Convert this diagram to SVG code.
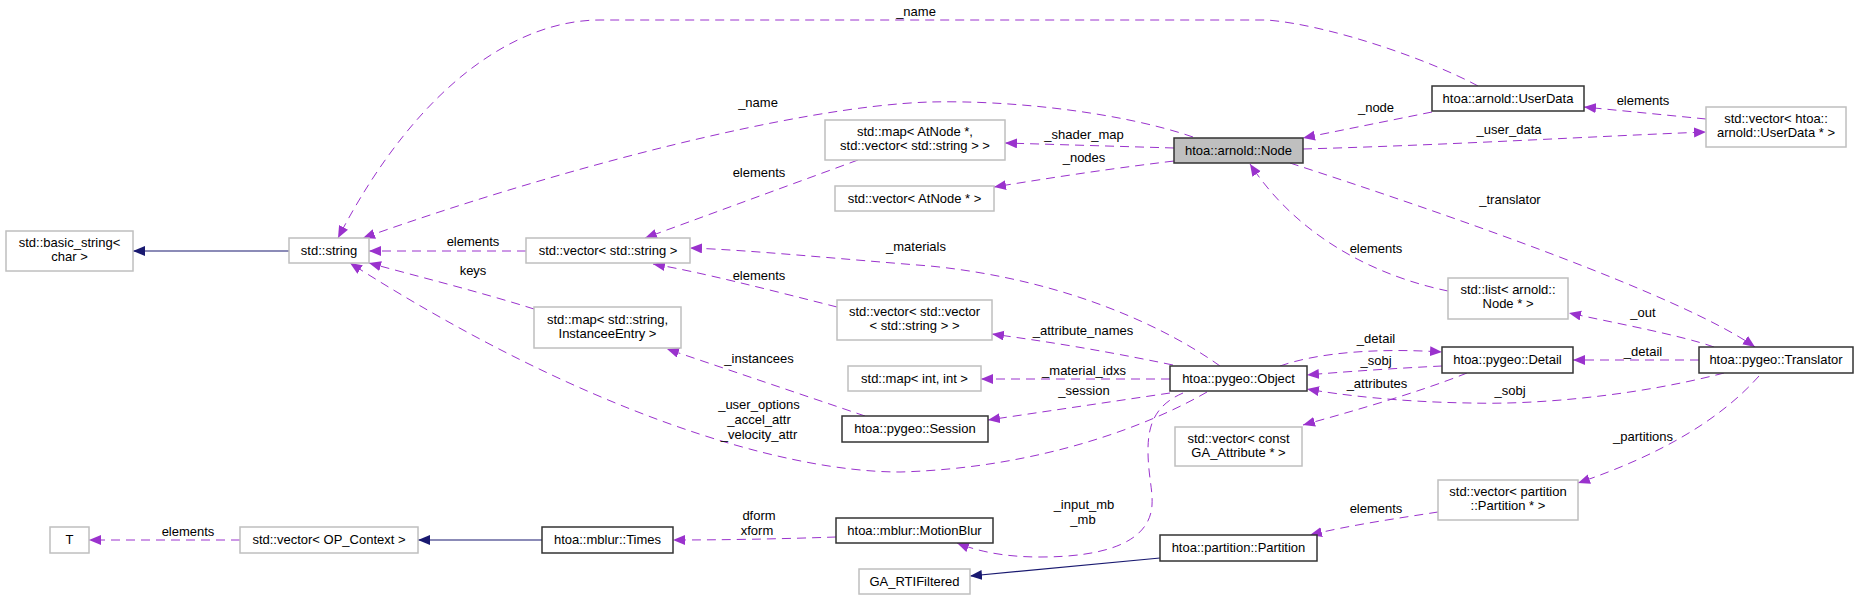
<svg xmlns="http://www.w3.org/2000/svg" width="1859" height="600" viewBox="0 0 1859 600">
<style>
text{font-family:"Liberation Sans",Arial,sans-serif;font-size:13px;fill:#000}
.n text{text-anchor:middle}
.g{fill:#fff;stroke:#bfbfbf;stroke-width:1.5}
.b{fill:#fff;stroke:#333;stroke-width:1.5}
.u{fill:none;stroke:#9a32cd;stroke-width:1;stroke-dasharray:9,6}
.i{fill:none;stroke:#191970;stroke-width:1.2}
.l{text-anchor:middle}
</style>
<defs>
<marker id="pa" markerUnits="userSpaceOnUse" markerWidth="13" markerHeight="11" refX="12" refY="5" orient="auto" viewBox="0 0 13 11"><path d="M0,0 L12,5 L0,10 z" fill="#9a32cd"/></marker>
<marker id="ba" markerUnits="userSpaceOnUse" markerWidth="13" markerHeight="11" refX="12" refY="5" orient="auto" viewBox="0 0 13 11"><path d="M0,0 L12,5 L0,10 z" fill="#191970"/></marker>
</defs>
<rect width="1859" height="600" fill="#fff"/>
<g id="edges">
<path class="u" marker-end="url(#pa)" d="M1193,137 C1120,112 1010,100 930,102 C800,106 560,168 363,238"/>
<text class="l" x="758" y="107">_name</text>
<path class="u" marker-end="url(#pa)" d="M1478,86 C1430,60 1330,25 1267,20 L600,20 C520,20 420,80 338,238"/>
<text class="l" x="916" y="16">_name</text>
<path class="u" marker-end="url(#pa)" d="M858,160 L645,238"/>
<text class="l" x="759" y="177">elements</text>
<path class="u" marker-end="url(#pa)" d="M1174,148 L1005,143"/>
<text class="l" x="1084" y="139">_shader_map</text>
<path class="u" marker-end="url(#pa)" d="M1174,161 C1100,170 1050,178 994,187"/>
<text class="l" x="1084" y="162">_nodes</text>
<path class="u" marker-end="url(#pa)" d="M1432,112 L1303,138"/>
<text class="l" x="1376" y="112">_node</text>
<path class="u" marker-end="url(#pa)" d="M1706,119 L1584,107"/>
<text class="l" x="1643" y="105">elements</text>
<path class="u" marker-end="url(#pa)" d="M1303,149 C1450,145 1600,136 1706,132"/>
<text class="l" x="1509" y="134">_user_data</text>
<path class="u" marker-end="url(#pa)" d="M1290,163 C1450,215 1680,295 1755,347"/>
<text class="l" x="1510" y="204">_translator</text>
<path class="u" marker-end="url(#pa)" d="M1448,291 C1380,277 1300,240 1250,164"/>
<text class="l" x="1376" y="253">elements</text>
<path class="u" marker-end="url(#pa)" d="M1714,347 C1680,335 1610,322 1569,313"/>
<text class="l" x="1643" y="317">_out</text>
<path class="u" marker-end="url(#pa)" d="M1699,360 L1573,360"/>
<text class="l" x="1643" y="356">_detail</text>
<path class="u" marker-end="url(#pa)" d="M1724,373 C1640,395 1540,405 1470,403 C1400,402 1340,395 1307,389"/>
<text class="l" x="1510" y="395">_sobj</text>
<path class="u" marker-end="url(#pa)" d="M1759,376 C1720,420 1660,455 1578,483"/>
<text class="l" x="1643" y="441">_partitions</text>
<path class="u" marker-end="url(#pa)" d="M1280,366 C1320,352 1380,348 1442,352"/>
<text class="l" x="1376" y="343">_detail</text>
<path class="u" marker-end="url(#pa)" d="M1442,366 C1400,368 1340,372 1307,375"/>
<text class="l" x="1376" y="365">_sobj</text>
<path class="u" marker-end="url(#pa)" d="M1467,373 C1420,392 1350,412 1303,425"/>
<text class="l" x="1377" y="388">_attributes</text>
<path class="u" marker-end="url(#pa)" d="M1170,379 L981,379"/>
<text class="l" x="1084" y="375">_material_idxs</text>
<path class="u" marker-end="url(#pa)" d="M1170,393 L988,420"/>
<text class="l" x="1084" y="395">_session</text>
<path class="u" marker-end="url(#pa)" d="M1173,365 C1100,350 1050,342 992,334"/>
<text class="l" x="1083" y="335">_attribute_names</text>
<path class="u" marker-end="url(#pa)" d="M1220,366 C1170,330 1070,280 930,266 C840,259 750,250 690,248"/>
<text class="l" x="916" y="251">_materials</text>
<path class="u" marker-end="url(#pa)" d="M837,307 C770,290 700,272 653,264"/>
<text class="l" x="759" y="280">elements</text>
<path class="u" marker-end="url(#pa)" d="M526,251 L369,251"/>
<text class="l" x="473" y="246">elements</text>
<path class="u" marker-end="url(#pa)" d="M534,309 C480,292 420,277 369,263"/>
<text class="l" x="473" y="275">keys</text>
<path class="u" marker-end="url(#pa)" d="M1207,392 C1150,425 1040,468 900,472 C780,472 580,410 350,263"/>
<text class="l" x="759" y="409">_user_options</text>
<text class="l" x="759" y="424">_accel_attr</text>
<text class="l" x="759" y="439">_velocity_attr</text>
<path class="u" marker-end="url(#pa)" d="M865,416 L667,349"/>
<text class="l" x="759" y="363">_instancees</text>
<path class="u" marker-end="url(#pa)" d="M1183,393 C1155,405 1148,425 1148,450 C1148,475 1153,490 1152,505 C1150,540 1110,557 1040,557 C1000,557 975,550 957,543"/>
<text class="l" x="1084" y="509">_input_mb</text>
<text class="l" x="1083" y="524">_mb</text>
<path class="u" marker-end="url(#pa)" d="M836,537 C780,539 720,540 673,540"/>
<text class="l" x="759" y="520">dform</text>
<text class="l" x="757" y="535">xform</text>
<path class="i" marker-end="url(#ba)" d="M542,540 L418,540"/>
<path class="u" marker-end="url(#pa)" d="M240,540 L89,540"/>
<text class="l" x="188" y="536">elements</text>
<path class="i" marker-end="url(#ba)" d="M289,251 L133,251"/>
<path class="i" marker-end="url(#ba)" d="M1160,558 L970,576"/>
<path class="u" marker-end="url(#pa)" d="M1438,512 C1400,518 1350,525 1310,535"/>
<text class="l" x="1376" y="513">elements</text>
</g>
<g id="n_basic_string" class="n"><rect class="g" x="6" y="231" width="127" height="40"/><text x="69.5" y="247">std::basic_string&lt;</text><text x="69.5" y="261">char &gt;</text></g>
<g id="n_string" class="n"><rect class="g" x="289" y="238" width="80" height="25"/><text x="329" y="255">std::string</text></g>
<g id="n_vec_string" class="n"><rect class="g" x="526" y="238" width="164" height="25"/><text x="608" y="255">std::vector&lt; std::string &gt;</text></g>
<g id="n_map_atnode" class="n"><rect class="g" x="825" y="120" width="180" height="40"/><text x="915" y="136">std::map&lt; AtNode *,</text><text x="915" y="150">std::vector&lt; std::string &gt; &gt;</text></g>
<g id="n_vec_atnode" class="n"><rect class="g" x="835" y="186" width="159" height="25"/><text x="914.5" y="203">std::vector&lt; AtNode * &gt;</text></g>
<g id="n_node" class="n"><rect x="1174" y="138" width="129" height="25" fill="#bfbfbf" stroke="#333" stroke-width="1.5"/><text x="1238.5" y="155">htoa::arnold::Node</text></g>
<g id="n_userdata" class="n"><rect class="b" x="1432" y="86" width="152" height="25"/><text x="1508" y="103">htoa::arnold::UserData</text></g>
<g id="n_vec_userdata" class="n"><rect class="g" x="1706" y="107" width="140" height="40"/><text x="1776" y="123">std::vector&lt; htoa::</text><text x="1776" y="137">arnold::UserData * &gt;</text></g>
<g id="n_list_node" class="n"><rect class="g" x="1448" y="278" width="120" height="41"/><text x="1508" y="294">std::list&lt; arnold::</text><text x="1508" y="308">Node * &gt;</text></g>
<g id="n_map_instancee" class="n"><rect class="g" x="534" y="307" width="147" height="41"/><text x="607.5" y="324">std::map&lt; std::string,</text><text x="607.5" y="338">InstanceeEntry &gt;</text></g>
<g id="n_vec_vec_string" class="n"><rect class="g" x="837" y="300" width="155" height="40"/><text x="914.5" y="316">std::vector&lt; std::vector</text><text x="914.5" y="330">&lt; std::string &gt; &gt;</text></g>
<g id="n_map_int" class="n"><rect class="g" x="848" y="366" width="133" height="25"/><text x="914.5" y="383">std::map&lt; int, int &gt;</text></g>
<g id="n_session" class="n"><rect class="b" x="842" y="416" width="146" height="26"/><text x="915" y="433">htoa::pygeo::Session</text></g>
<g id="n_object" class="n"><rect class="b" x="1170" y="366" width="137" height="25"/><text x="1238.5" y="383">htoa::pygeo::Object</text></g>
<g id="n_detail" class="n"><rect class="b" x="1442" y="347" width="131" height="26"/><text x="1507.5" y="364">htoa::pygeo::Detail</text></g>
<g id="n_translator" class="n"><rect class="b" x="1699" y="347" width="154" height="26"/><text x="1776" y="364">htoa::pygeo::Translator</text></g>
<g id="n_vec_attr" class="n"><rect class="g" x="1175" y="427" width="127" height="39"/><text x="1238.5" y="443">std::vector&lt; const</text><text x="1238.5" y="457">GA_Attribute * &gt;</text></g>
<g id="n_vec_partition" class="n"><rect class="g" x="1438" y="480" width="140" height="40"/><text x="1508" y="496">std::vector&lt; partition</text><text x="1508" y="510">::Partition * &gt;</text></g>
<g id="n_T" class="n"><rect class="g" x="50" y="527" width="39" height="26"/><text x="69.5" y="544">T</text></g>
<g id="n_vec_opcontext" class="n"><rect class="g" x="240" y="527" width="178" height="26"/><text x="329" y="544">std::vector&lt; OP_Context &gt;</text></g>
<g id="n_times" class="n"><rect class="b" x="542" y="527" width="131" height="26"/><text x="607.5" y="544">htoa::mblur::Times</text></g>
<g id="n_motionblur" class="n"><rect class="b" x="836" y="518" width="157" height="25"/><text x="914.5" y="535">htoa::mblur::MotionBlur</text></g>
<g id="n_rtifiltered" class="n"><rect class="g" x="859" y="569" width="111" height="25"/><text x="914.5" y="586">GA_RTIFiltered</text></g>
<g id="n_partition" class="n"><rect class="b" x="1160" y="535" width="157" height="26"/><text x="1238.5" y="552">htoa::partition::Partition</text></g>
</svg>
